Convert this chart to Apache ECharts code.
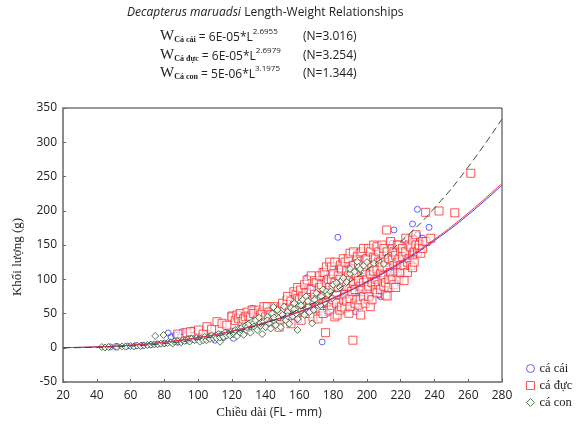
<!DOCTYPE html>
<html>
<head>
<meta charset="utf-8">
<script src="https://cdn.jsdelivr.net/npm/echarts@6/dist/echarts.min.js"></script>
<style>
  html, body { margin: 0; padding: 0; background: #fff; }
  #chart { width: 583px; height: 429px; }
</style>
</head>
<body>
<div id="chart"></div>
<script>
// trục
const xTicks = [20, 40, 60, 80, 100, 120, 140, 160, 180, 200, 220, 240, 260, 280]
const yTicks = [-50, 0, 50, 100, 150, 200, 250, 300, 350]

// đường hồi quy W = a*L^b, đọc tại các mốc chiều dài
const fitL = [20, 40, 60, 80, 100, 120, 140, 160, 180, 200, 220, 240, 260, 280]
const fitCai = [0.19, 1.25, 3.73, 8.1, 14.7, 24.1, 36.6, 52.3, 72.0, 95.7, 123.7, 156.4, 194.2, 237.4]
const fitDuc = [0.19, 1.26, 3.77, 8.2, 14.9, 24.4, 37.0, 53.0, 72.9, 96.9, 125.3, 158.4, 196.7, 240.1]
const fitCon = [0.07, 0.66, 2.42, 6.08, 12.4, 22.2, 36.4, 55.8, 81.4, 114, 154.7, 204, 264, 334]

// cá cái [L, W]
const caCai = [
  [48, 1.2], [52, 1.9], [58, 2.5], [63, 3], [67, 3.5], [72, 4.5], [76, 5.5], [80, 6.5],
  [82.3, 21.5], [84, 16], [86.5, 18.6], [88, 8], [90.4, 23.4], [93, 10.5], [96.4, 25.9], [98, 12],
  [101, 14], [104, 13], [107, 17], [110, 16], [110, 11], [113, 19], [115, 15], [117, 22], [120, 20],
  [121, 13.8], [124, 26], [125, 22], [128, 30], [130, 27], [131.6, 55], [132, 57.6], [135, 35], [135, 30],
  [138, 40], [139.9, 50.3], [140, 34], [143, 38], [145, 40], [146, 45],
  [150, 50], [152, 42], [153, 48], [155, 60], [156, 62], [157, 55], [158, 70], [159.6, 40.5], [161, 52],
  [162, 65], [163, 85], [164.6, 102.3], [165, 88], [166, 75], [167, 60], [168, 58], [169, 72], [170, 85],
  [171, 95], [172, 68], [173, 60], [173.5, 8.5], [174, 100], [175, 95], [176.5, 111], [176.5, 50.3],
  [177, 65], [178, 80], [179.5, 118.4], [180, 98], [181, 62], [182, 85], [182.8, 161.2], [183, 100],
  [184, 115], [185, 75], [186, 85], [187, 110], [188, 72], [189, 58], [189, 120], [190, 92], [191, 100],
  [192, 125], [193.3, 52.6], [194, 90], [195, 82], [196, 105], [197, 135], [198, 80], [199, 100],
  [200, 68], [201, 118], [202.2, 72.2], [203, 90], [204.2, 145.2], [205, 110], [206, 130], [207.2, 77],
  [208.1, 74.5], [209, 100], [210, 128], [211, 85], [212, 111], [213, 125], [214, 140], [215, 152.5],
  [216, 171.9], [216, 110], [217, 95], [218, 106.2], [219, 116], [220, 128], [221, 150], [222, 140],
  [223, 130], [224, 160], [225, 145], [226, 135], [227, 180.7], [228, 160], [229.9, 202], [230, 165],
  [232, 150], [233, 160], [236.8, 175.8]
]

// cá đực [L, W]
const caDuc = [
  [88, 20], [93.4, 22], [95.4, 23.4], [100.3, 25.9], [103, 20], [105.3, 30.7], [108, 27], [111.2, 38],
  [114.2, 35.7], [117, 33], [120.1, 46.4], [120, 45], [122, 40], [123, 47.8], [124, 43], [125, 50],
  [126, 38], [127, 42], [128, 45.3], [129, 52], [130, 46.4], [131, 45], [132, 55.1], [133, 50],
  [135, 40.5], [136, 55], [137, 48], [138, 52], [139, 60], [140, 45],
  [141, 60], [142, 52], [143, 48], [144, 38], [145, 60], [146, 55], [147, 46], [148, 30], [149, 58],
  [150, 65], [151, 52], [151, 45], [152.7, 69.7], [153, 42], [153, 75], [154, 58], [155, 35], [155, 68],
  [156.7, 81.8], [157, 62], [157, 50], [158, 48], [158, 78], [159, 72], [159, 88], [160.7, 84.3],
  [160, 55], [160, 70],
  [161, 40], [162, 75], [163, 92], [163, 60], [164.6, 98.9], [164, 80], [165, 62], [166, 50], [166, 68],
  [167, 85], [167, 105], [168, 70], [168, 45], [169, 98], [169, 78], [170, 58], [170, 95], [171, 42],
  [171, 70], [172, 88], [172, 105], [172, 58], [173, 75], [173, 92], [174, 65], [174, 110], [174, 50],
  [175, 110], [175, 78], [175.5, 22], [176, 95], [176, 66], [176, 118], [177, 80], [177, 100], [178, 55],
  [178, 88], [178, 125], [179, 118], [179, 100], [179, 62], [180, 70], [180, 88], [180, 108],
  [181, 45], [181, 95], [181, 125], [182.4, 47.8], [182, 78], [182, 65], [183, 105], [183, 88],
  [184.4, 120.8], [184, 55], [184, 100], [185, 92], [185, 60], [185, 115], [186, 130], [186, 70],
  [186, 95], [187, 78], [187, 125], [187, 58], [188, 112], [188, 68], [188, 90], [189.3, 50.3],
  [189, 105], [189, 130], [190, 98], [190, 138], [190, 72], [190, 60], [191.7, 11], [191, 82], [191, 115],
  [192, 120], [192, 95], [192, 140], [193, 65], [193, 85], [193, 108], [194.3, 133], [194, 105], [194, 70],
  [195.2, 62.4], [195, 122], [195, 98], [196, 90], [196.3, 47.8], [196, 138], [196, 70], [197, 140],
  [197, 110], [197, 85], [198, 115], [198, 75], [198, 95], [198, 145], [199, 128], [199, 65], [199, 110],
  [200, 100], [200, 85], [200, 130], [200, 118],
  [201, 145], [201, 90], [201, 75], [202, 60], [202, 108], [202, 140], [203, 118], [203, 95], [203, 70],
  [204, 132], [204, 112], [204, 150], [205, 95], [205, 85], [205, 130], [206, 147.5], [206, 80],
  [206, 100], [206, 115], [207, 125], [207, 140], [207, 92], [208, 108], [208, 85], [208, 125],
  [209, 150], [209, 98], [209, 118], [210, 135], [210, 90], [210, 105], [210, 145], [211.1, 77],
  [211, 125], [211, 95], [211.7, 171.9], [212, 75.5], [212, 118], [212, 140], [213, 100], [213, 130],
  [213, 88], [214, 155], [214, 110], [215, 128], [215, 100], [215, 145], [216, 140], [216, 120],
  [216, 92], [217, 88], [217, 135], [218, 110], [218, 125], [218, 150], [219, 150], [219, 100],
  [219, 130], [220, 140], [220, 120], [220, 110],
  [221, 133], [221, 145], [222, 98], [222, 120], [223, 160], [223, 140], [224, 125], [224, 110],
  [225, 150], [225, 130], [226, 147.5], [226, 120], [227, 116.9], [227, 157], [227, 135], [228, 140],
  [228, 125], [229, 165], [229, 150], [230, 140], [230.9, 145], [231, 150], [231.9, 137.9], [232.9, 154.8],
  [233, 145], [234.8, 197.7], [235, 155], [237.8, 159.8], [242.7, 199.6], [252, 197], [261.5, 254.7]
]

// cá con [L, W]
const caCon = [
  [43, 1], [44.9, 0.4], [47, 1.2], [50.9, 1.4], [52, 1], [55, 2], [57, 1.5], [60, 2.5], [62, 2],
  [64, 3], [66, 2.5], [68, 3.5], [70, 4], [72, 4.5], [74, 5], [74.6, 17.2], [76, 5], [78, 6],
  [79.5, 18.6], [80, 6.5],
  [82, 7], [84, 8], [85, 6], [86, 9], [88, 9.5], [90, 8], [91, 11], [92, 10], [94, 12], [95, 9],
  [96, 13], [98, 11], [99, 14], [100, 12], [101, 9],
  [102, 14], [103, 11], [104, 16], [105, 11], [106, 15], [107, 13], [108, 18], [109, 14], [110, 17],
  [111, 14], [112, 20], [113, 8.8], [113, 15], [114, 19], [115, 16], [116, 22], [117, 18], [118, 21],
  [119, 18], [120, 24],
  [121, 20], [121, 23], [122, 26], [123, 17], [124, 28], [125, 22], [125, 27], [126, 30], [127, 19],
  [128, 32], [129, 25], [129, 30], [130, 35], [131, 22], [132, 38], [133, 35.7], [133, 31], [134, 40],
  [135, 26], [136, 44], [137, 32], [137, 36], [138, 20], [139, 38], [140, 30],
  [141, 45], [141, 40], [142, 36], [143, 28], [144, 50], [144.6, 59.5], [145, 40], [145, 44], [146, 33],
  [147, 55], [148, 44], [149, 30], [149, 50], [150, 48], [151, 60], [152, 40], [153, 52], [153, 46],
  [154, 35], [155, 58], [156, 46], [157, 65], [157, 56], [158, 50], [158.9, 26], [159, 42], [160, 62],
  [160.7, 67.2], [161, 55], [161, 62], [162, 70], [163, 48], [164, 75], [165, 60], [165, 68], [166, 52],
  [167.6, 35.7], [168.5, 55], [169, 70], [170, 80], [171, 62], [172.5, 62.4], [173, 75], [174, 85],
  [175, 66], [176, 82], [177, 78], [178.5, 81.8], [179.5, 72.2], [180, 92], [182, 95], [184, 88],
  [185, 98], [186, 102], [188, 96], [190, 108], [190, 115], [192.7, 111], [194.3, 125.6], [195, 118],
  [196, 115], [198, 120], [200, 125], [204.2, 123.3], [210, 122.3]
]

const chart = echarts.init(document.getElementById('chart'))

const serif = 'Liberation Serif'
const sans = 'Open Sans'
const blue = '#3a3aff'
const red = '#ff2a2a'
const green = '#2d5a2d'

const option = {
  animation: false,
  backgroundColor: '#fff',
  grid: { left: 63, right: 81, top: 108, bottom: 47, show: true, borderColor: '#333', borderWidth: 1 },
  xAxis: {
    type: 'value', min: 20, max: 280, interval: 20,
    axisLine: { onZero: false, lineStyle: { color: '#8c8c8c', width: 2 } },
    axisTick: { inside: true, length: 3, lineStyle: { color: '#666' } },
    axisLabel: { color: '#222', fontFamily: sans, fontSize: 12, margin: 8 },
    splitLine: { show: false },
  },
  yAxis: {
    type: 'value', min: -50, max: 350, interval: 50,
    axisLine: { show: true, onZero: false, lineStyle: { color: '#8c8c8c', width: 2 } },
    axisTick: { show: true, inside: true, length: 3, lineStyle: { color: '#666' } },
    axisLabel: { color: '#222', fontFamily: sans, fontSize: 12, margin: 6 },
    splitLine: { show: false },
  },
  legend: {
    orient: 'vertical', left: 521, top: 357, itemWidth: 8, itemHeight: 8, itemGap: 4,
    textStyle: { fontFamily: serif, fontSize: 12.5, color: '#222' },
    data: [
      { name: 'cá cái', icon: 'circle', itemStyle: { color: '#fff', borderColor: blue, borderWidth: 1 } },
      { name: 'cá đực', icon: 'rect', itemStyle: { color: '#fff', borderColor: red, borderWidth: 1 } },
      { name: 'cá con', icon: 'diamond', itemStyle: { color: '#fff', borderColor: green, borderWidth: 1 } },
    ],
  },
  graphic: [
    {
      type: 'text', left: 127, top: 7,
      style: {
        text: '{i|Decapterus maruadsi} {n|Length-Weight Relationships}',
        rich: {
          i: { fontFamily: sans, fontStyle: 'italic', fontSize: 12, fill: '#222' },
          n: { fontFamily: sans, fontSize: 12, fill: '#222' },
        },
      },
    },
    ...[['Cá cái', '6E-05', '2.6955', 28], ['Cá đực', '6E-05', '2.6979', 47], ['Cá con', '5E-06', '3.1975', 65]].map(r => ({
      type: 'text', left: 160, top: r[3],
      style: {
        text: `{w|W}{s|${r[0]}}{e| = ${r[1]}*L}{p|${r[2]}}`,
        rich: {
          w: { fontFamily: serif, fontSize: 15, fill: '#222', lineHeight: 16, verticalAlign: 'bottom' },
          s: { fontFamily: serif, fontSize: 8, fontWeight: 'bold', fill: '#222', lineHeight: 16, verticalAlign: 'bottom' },
          e: { fontFamily: sans, fontSize: 12, fill: '#222', lineHeight: 16, verticalAlign: 'bottom' },
          p: { fontFamily: sans, fontSize: 8, fill: '#222', lineHeight: 16, verticalAlign: 'top' },
        },
      },
    })),
    ...[['(N=3.016)', 31], ['(N=3.254)', 50], ['(N=1.344)', 68]].map(r => ({
      type: 'text', left: 303, top: r[1],
      style: { text: r[0], fontFamily: sans, fontSize: 12, fill: '#222' },
    })),
    {
      type: 'text', x: 18, y: 257, rotation: Math.PI / 2,
      style: { text: 'Khối lượng (g)', fontFamily: serif, fontSize: 13, fill: '#222', align: 'center', verticalAlign: 'middle' },
    },
    {
      type: 'text', x: 269, y: 413,
      style: {
        text: '{a|Chiều dài} {b|(FL - mm)}', align: 'center', verticalAlign: 'middle',
        rich: {
          a: { fontFamily: serif, fontSize: 13, fill: '#222' },
          b: { fontFamily: sans, fontSize: 12, fill: '#222' },
        },
      },
    },
  ],
  series: [
    {
      name: 'cá cái', type: 'scatter', data: caCai, symbol: 'circle', symbolSize: 6,
      itemStyle: { color: 'rgba(255,255,255,0)', borderColor: blue, borderWidth: 1 }, z: 2,
    },
    {
      name: 'cá đực', type: 'scatter', data: caDuc, symbol: 'rect', symbolSize: 8,
      itemStyle: { color: 'rgba(255,255,255,0.7)', borderColor: red, borderWidth: 1 }, z: 3,
    },
    {
      name: 'cá con', type: 'scatter', data: caCon, symbol: 'diamond', symbolSize: 7,
      itemStyle: { color: '#fff', borderColor: green, borderWidth: 1 }, z: 4,
    },
    {
      name: 'W cá cái', type: 'line', data: fitL.map((l, i) => [l, fitCai[i]]), smooth: true, symbol: 'none',
      lineStyle: { color: blue, width: 1 }, z: 5,
    },
    {
      name: 'W cá đực', type: 'line', data: fitL.map((l, i) => [l, fitDuc[i]]), smooth: true, symbol: 'none',
      lineStyle: { color: red, width: 1 }, z: 5,
    },
    {
      name: 'W cá con', type: 'line', data: fitL.map((l, i) => [l, fitCon[i]]), smooth: true, symbol: 'none',
      lineStyle: { color: '#2f4f2f', width: 1, type: [7, 4] }, z: 5,
    },
  ],
}

chart.setOption(option)
</script>
</body>
</html>
